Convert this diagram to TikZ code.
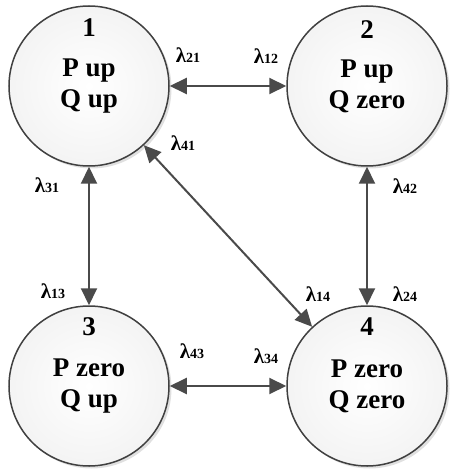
\documentclass[tikz,border=0pt]{standalone}
\usepackage{fontspec}
\setmainfont{Liberation Serif}
\usetikzlibrary{arrows.meta,shadows}
\definecolor{edgegray}{HTML}{404040}
\definecolor{arrgray}{HTML}{4A4A4A}
\tikzset{
  state/.style={circle, minimum size=160pt, inner sep=0pt, draw=edgegray, line width=1.5pt,
    inner color=white, outer color=gray!9,
    drop shadow={shadow xshift=2.5pt, shadow yshift=-2.5pt, fill=gray!60, opacity=0.4},
    font=\fontsize{27}{31}\selectfont\bfseries, align=center, text=black},
  num/.style={font=\fontsize{27}{27}\selectfont\bfseries, inner sep=0pt},
  rate/.style={inner sep=0pt},
  trans/.style={{Triangle[length=17pt,width=16pt]}-{Triangle[length=17pt,width=16pt]}, line width=2pt, draw=arrgray}
}
\newcommand{\rt}[1]{{\fontsize{21}{21}\selectfont\bfseries λ}{\fontsize{14}{14}\selectfont\bfseries #1}}
\begin{document}
\begin{tikzpicture}[x=1pt,y=-1pt]
\useasboundingbox (0,0) rectangle (450,470);
\node[state] (s1) at (89,86) {P up\\Q up};
\node[state] (s2) at (367,86) {P up\\Q zero};
\node[state] (s3) at (89,386) {P zero\\Q up};
\node[state] (s4) at (367,386) {P zero\\Q zero};
\node[num] (n1) at (89,28) {1};
\node[num] (n2) at (367,30) {2};
\node[num] (n3) at (89,327) {3};
\node[num] (n4) at (367,327) {4};
\draw[trans] (s1) -- (s2);
\draw[trans] (s1) -- (s3);
\draw[trans] (s2) -- (s4);
\draw[trans] (s3) -- (s4);
\draw[trans] (s1) -- (s4);
\node[rate] (l21) at (188,55) {\rt{21}};
\node[rate] (l12) at (266,56) {\rt{12}};
\node[rate] (l41) at (183,143) {\rt{41}};
\node[rate] (l31) at (47,185) {\rt{31}};
\node[rate] (l42) at (405,186) {\rt{42}};
\node[rate] (l13) at (53,291) {\rt{13}};
\node[rate] (l43) at (192,351) {\rt{43}};
\node[rate] (l14) at (318,294) {\rt{14}};
\node[rate] (l24) at (405,294) {\rt{24}};
\node[rate] (l34) at (266,356) {\rt{34}};
\end{tikzpicture}
\end{document}
